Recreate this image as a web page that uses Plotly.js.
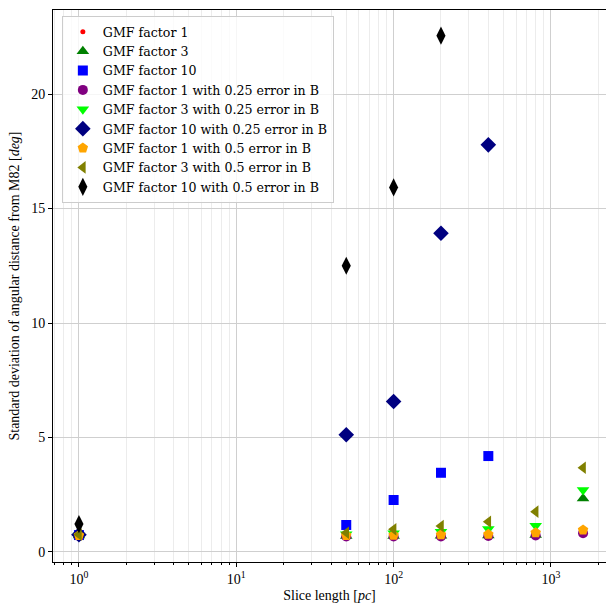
<!DOCTYPE html>
<html>
<head>
<meta charset="utf-8">
<script src="https://cdn.plot.ly/plotly-3.0.1.min.js"></script>
<style>html,body{margin:0;padding:0;background:#fff;}#chart{width:606px;height:603px;}</style>
</head>
<body>
<div id="chart"></div>
<script>
var sliceLengthsAll = [1, 50, 100, 200, 400, 800, 1600];
var sliceLengths10 = [1, 50, 100, 200, 400];
var sliceLengths10b = [1, 50, 100, 200];

var gmf1 = [0.70, 0.70, 0.70, 0.70, 0.70, 0.70, 0.78];
var gmf3 = [0.72, 0.70, 0.70, 0.71, 0.72, 0.74, 2.34];
var gmf10 = [0.74, 1.18, 2.27, 3.46, 4.19];
var gmf1err25 = [0.70, 0.68, 0.68, 0.68, 0.70, 0.72, 0.82];
var gmf3err25 = [0.72, 0.78, 0.82, 0.88, 1.00, 1.15, 2.71];
var gmf10err25 = [0.75, 5.12, 6.57, 13.92, 17.78];
var gmf1err5 = [0.72, 0.72, 0.73, 0.75, 0.77, 0.84, 0.96];
var gmf3err5 = [0.76, 0.84, 0.99, 1.13, 1.32, 1.76, 3.68];
var gmf10err5 = [1.22, 12.50, 15.92, 22.55];

var seriesNames = [
  "GMF factor 1", "GMF factor 3", "GMF factor 10",
  "GMF factor 1 with 0.25 error in B", "GMF factor 3 with 0.25 error in B",
  "GMF factor 10 with 0.25 error in B", "GMF factor 1 with 0.5 error in B",
  "GMF factor 3 with 0.5 error in B", "GMF factor 10 with 0.5 error in B"
];
var xTickVals = [1, 10, 100, 1000];
var xTickText = ["10<sup>0</sup>", "10<sup>1</sup>", "10<sup>2</sup>", "10<sup>3</sup>"];
var yTickVals = [0, 5, 10, 15, 20];

var specs = [
  {x: sliceLengthsAll, y: gmf1, color: "#ff0000", symbol: "circle", size: 5},
  {x: sliceLengthsAll, y: gmf3, color: "#008000", symbol: "triangle-up", size: 11},
  {x: sliceLengths10, y: gmf10, color: "#0000ff", symbol: "square", size: 10},
  {x: sliceLengthsAll, y: gmf1err25, color: "#800080", symbol: "circle", size: 10},
  {x: sliceLengthsAll, y: gmf3err25, color: "#00ff00", symbol: "triangle-down", size: 11},
  {x: sliceLengths10, y: gmf10err25, color: "#000080", symbol: "diamond", size: 12},
  {x: sliceLengthsAll, y: gmf1err5, color: "#ffa500", symbol: "pentagon", size: 11},
  {x: sliceLengthsAll, y: gmf3err5, color: "#808000", symbol: "triangle-left", size: 11},
  {x: sliceLengths10b, y: gmf10err5, color: "#000000", symbol: "diamond-tall", size: 13}
];

var traces = specs.map(function (s, i) {
  return {
    type: "scatter", mode: "markers", name: seriesNames[i],
    x: s.x, y: s.y,
    marker: {color: s.color, symbol: s.symbol, size: s.size, line: {width: 0}}
  };
});

var fam = "Liberation Serif, DejaVu Serif, serif";
var tickFont = {family: fam, size: 14, color: "#000"};
var titleFont = {family: fam, size: 14, color: "#000"};
var legendFont = {family: "DejaVu Serif, serif", size: 12.6, color: "#000"};

var layout = {
  width: 606, height: 603,
  margin: {l: 53, r: 0, t: 10, b: 41},
  paper_bgcolor: "#fff", plot_bgcolor: "#fff",
  font: tickFont,
  showlegend: true,
  legend: {
    x: 0.016, y: 0.989, xanchor: "left", yanchor: "top",
    bgcolor: "rgba(255,255,255,0.8)", bordercolor: "#cccccc", borderwidth: 1,
    font: legendFont, tracegroupgap: 0, itemwidth: 30
  },
  xaxis: {
    type: "log",
    range: [-0.165, 3.35],
    tickvals: xTickVals, ticktext: xTickText,
    ticks: "outside", ticklen: 4, tickwidth: 1, tickcolor: "#000",
    showline: true, linecolor: "#000", linewidth: 1, mirror: true,
    showgrid: true, gridcolor: "#cfcfcf", gridwidth: 1,
    zeroline: false,
    minor: {ticks: "outside", ticklen: 2, tickcolor: "#000", showgrid: true, gridcolor: "#ececec", dtick: "D1"},
    title: {text: "Slice length [<i>pc</i>]", font: titleFont, standoff: 4},
    tickfont: tickFont
  },
  yaxis: {
    range: [-0.437, 23.67],
    tickvals: yTickVals,
    ticks: "outside", ticklen: 4, tickwidth: 1, tickcolor: "#000",
    showline: true, linecolor: "#000", linewidth: 1, mirror: false,
    showgrid: true, gridcolor: "#cfcfcf", gridwidth: 1,
    zeroline: false,
    title: {text: "Standard deviation of angular distance from M82 [<i>deg</i>]", font: titleFont, standoff: 8},
    tickfont: tickFont
  }
};

Plotly.newPlot("chart", traces, layout, {displayModeBar: false, staticPlot: true});
</script>
</body>
</html>
